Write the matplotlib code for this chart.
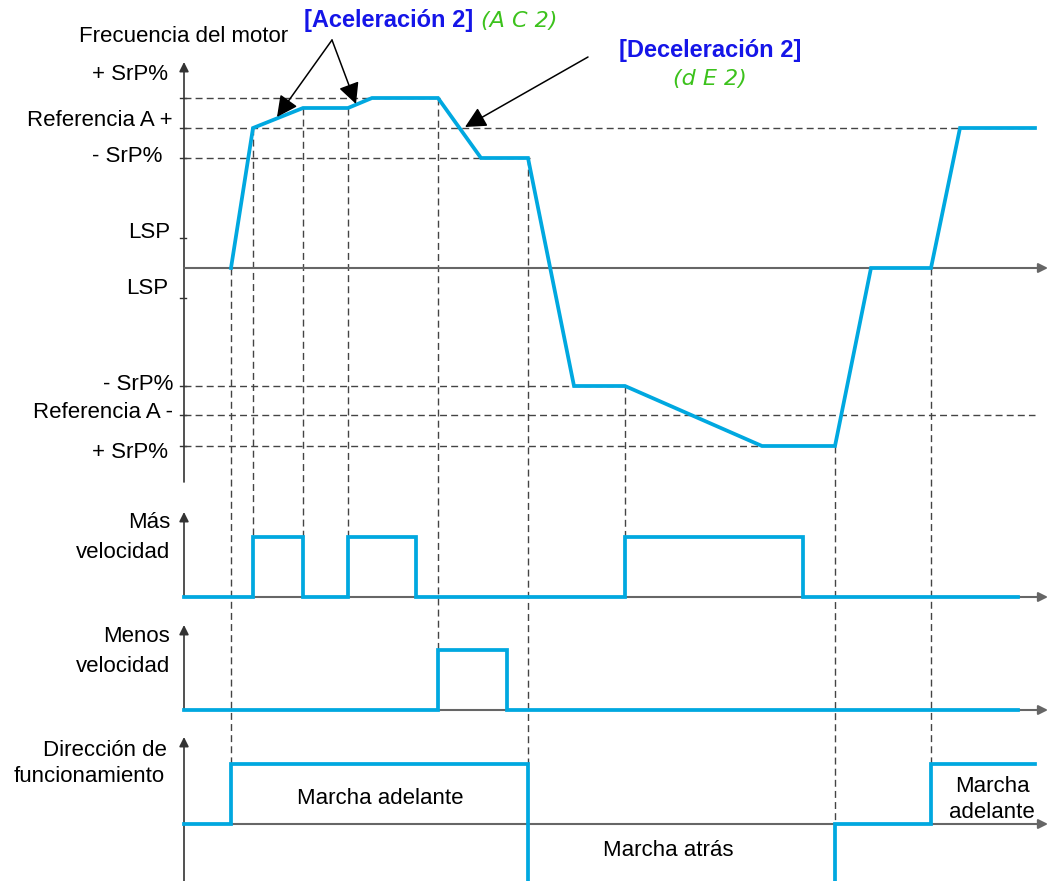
import matplotlib
matplotlib.use("Agg")
import matplotlib.pyplot as plt

plt.rcParams['font.family'] = ['Liberation Sans', 'DejaVu Sans']

# ---------------- data ----------------
# Motor frequency profile: time and frequency (relative to zero line)
speed_time = [231, 253, 303, 348, 372, 438, 481, 528, 574, 625, 762, 835, 871, 931, 960, 1035]
speed_freq = [0, 140, 160, 160, 170, 170, 110, 110, -118, -118, -178, -178, 0, 0, 140, 140]

# Frequency levels on the top axis
level_labels = ["+ SrP%", "Referencia A +", "- SrP%", "LSP", "LSP",
                "- SrP%", "Referencia A -", "+ SrP%"]
level_values = [170, 140, 110, 30, -30, -118, -147, -178]
level_guide_end = [440, 1035, 530, None, None, 625, 1035, 760]

# Logic signals: edge times and state in each interval
mas_edges = [184, 253, 303, 348, 416, 625, 803, 1018]
mas_state = [0, 1, 0, 1, 0, 1, 0]
menos_edges = [184, 438, 507, 1018]
menos_state = [0, 1, 0]
dir_edges = [184, 231, 528, 835, 931, 1035]
dir_state = [0, 1, -1, 0, 1]

# Vertical guide lines (event times)
guide_times = [231, 253, 303, 348, 438, 528, 625, 835, 931]

# ---------------- layout ----------------
W, H = 1055, 881
fig = plt.figure(figsize=(W / 100, H / 100), dpi=100)
ax = fig.add_axes([0, 0, 1, 1])
ax.set_xlim(0, W)
ax.set_ylim(H, 0)
ax.axis('off')

CYAN = '#00a8e0'
BLUE = '#1515e8'
GREEN = '#3cc21c'
AX_X = 184
ZERO_Y = 268
MAS_Y, MENOS_Y, DIR_Y = 597, 710, 824
AMP = 60
FS = 16
DASH = (0, (5, 3))


def fy(v):
    return ZERO_Y - v


def step_xy(edges, states, base, amp):
    xs, ys = [], []
    for i, s in enumerate(states):
        y = base - s * amp
        xs += [edges[i], edges[i + 1]]
        ys += [y, y]
    return xs, ys


def axis_arrow(x0, y0, x1, y1, color='#333333', lw=1.2):
    ax.annotate('', xy=(x1, y1), xytext=(x0, y0),
                arrowprops=dict(arrowstyle='-|>', color=color, lw=lw,
                                mutation_scale=14, shrinkA=0, shrinkB=0))


# axes
axis_arrow(AX_X, 482, AX_X, 62)
axis_arrow(AX_X, MAS_Y, AX_X, 512)
axis_arrow(AX_X, MENOS_Y, AX_X, 625)
axis_arrow(AX_X, H + 5, AX_X, 737)
for yb in (ZERO_Y, MAS_Y, MENOS_Y, DIR_Y):
    axis_arrow(AX_X, yb, 1048, yb, color='#666666', lw=1.5)

# level guides, ticks and labels
label_dy = [-23, -8, -1, -5, -10, -2, -2, 7]
label_x = [168, 173, 162, 170, 168, 173, 173, 168]
for lab, v, end, dy, lx in zip(level_labels, level_values, level_guide_end, label_dy, label_x):
    y = fy(v)
    ax.plot([AX_X - 4, AX_X + 2], [y, y], color='#333333', lw=1)
    if end is not None:
        ax.plot([AX_X, end], [y, y], color='#444444', lw=1, ls=DASH)
    ax.text(lx, y + dy, lab, fontsize=FS, ha='right', va='center')

# vertical guides
speed_at = dict(zip(speed_time, speed_freq))
guide_bottom = {231: DIR_Y - AMP, 253: MAS_Y - AMP, 303: MAS_Y - AMP, 348: MAS_Y - AMP,
                438: MENOS_Y - AMP, 528: DIR_Y - AMP, 625: MAS_Y - AMP,
                835: DIR_Y, 931: DIR_Y - AMP}
for t in guide_times:
    ax.plot([t, t], [fy(speed_at[t]), guide_bottom[t]], color='#444444', lw=1,
            ls=DASH, zorder=1)

# signals
ax.plot(speed_time, [fy(v) for v in speed_freq], color=CYAN, lw=2.7,
        solid_joinstyle='miter', zorder=3)
for edges, states, base in ((mas_edges, mas_state, MAS_Y),
                            (menos_edges, menos_state, MENOS_Y),
                            (dir_edges, dir_state, DIR_Y)):
    xs, ys = step_xy(edges, states, base, AMP)
    ax.plot(xs, ys, color=CYAN, lw=2.7, solid_joinstyle='miter', zorder=3)

# left texts
ax.text(184, 37, "Frecuencia del motor", fontsize=FS, ha='center', va='center')
ax.text(170, 523, "Más", fontsize=FS, ha='right', va='center')
ax.text(170, 552, "velocidad", fontsize=FS, ha='right', va='center')
ax.text(170, 637, "Menos", fontsize=FS, ha='right', va='center')
ax.text(170, 666, "velocidad", fontsize=FS, ha='right', va='center')
ax.text(167, 751, "Dirección de", fontsize=FS, ha='right', va='center')
ax.text(165, 777, "funcionamiento", fontsize=FS, ha='right', va='center')

# direction labels
ax.text(380, 798, "Marcha adelante", fontsize=FS, ha='center', va='center')
ax.text(668, 850, "Marcha atrás", fontsize=FS, ha='center', va='center')
ax.text(992, 786, "Marcha", fontsize=FS, ha='center', va='center')
ax.text(992, 812, "adelante", fontsize=FS, ha='center', va='center')

# annotations
ax.text(304, 20, "[Aceleración 2]", fontsize=17, fontweight='bold', color=BLUE,
        ha='left', va='center')
ax.text(481, 21, "(A C 2)", fontsize=16, color=GREEN, ha='left', va='center',
        fontstyle='italic', family=['DejaVu Sans'])
ax.text(710, 51, "[Deceleración 2]", fontsize=17, fontweight='bold', color=BLUE,
        ha='center', va='center')
ax.text(710, 79, "(d E 2)", fontsize=16, color=GREEN, ha='center', va='center',
        fontstyle='italic', family=['DejaVu Sans'])

arrow_kw = dict(arrowstyle='-|>', color='black', lw=1.1, mutation_scale=32,
                shrinkA=0, shrinkB=0)
ax.annotate('', xy=(277, 117), xytext=(332, 40), arrowprops=arrow_kw)
ax.annotate('', xy=(356, 104), xytext=(332, 40), arrowprops=arrow_kw)
ax.annotate('', xy=(465, 127), xytext=(588, 57), arrowprops=arrow_kw)

fig.savefig("out.png", dpi=100)
